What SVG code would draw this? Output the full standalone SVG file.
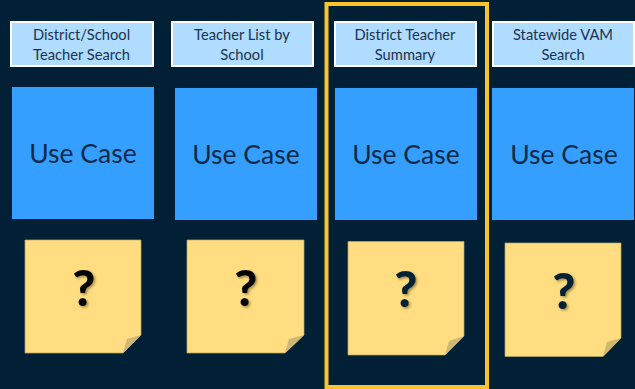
<svg xmlns="http://www.w3.org/2000/svg" width="635" height="389" viewBox="0 0 635 389">
<style>
text{font-family:Lato,"Open Sans",sans-serif;text-anchor:middle}
.lb{fill:#afdcff;stroke:#fff;stroke-width:2}
.lt{font-size:14.700px;fill:#1b3350}
.uc{fill:#359fff}
.ut{font-size:26.500px;fill:#0e2a47}
.n{fill:#ffdd80;stroke:#b5a76b;stroke-width:.7}
.f{fill:#cfb872}
.q{font-size:50px;font-weight:900}
</style>
<defs><filter id="s" x="-30%" y="-30%" width="160%" height="160%"><feDropShadow dx="1.5" dy="1.5" stdDeviation="1" flood-color="#7a6a30" flood-opacity=".7"/></filter></defs>
<rect width="635" height="389" fill="#012036"/>
<g id="col1">
<rect class="lb" x="11" y="22" width="142" height="44"/>
<text class="lt" x="81.500" y="40">District/School</text><text class="lt" x="81.500" y="60">Teacher Search</text>
<rect class="uc" x="12" y="87" width="142" height="132"/>
<text class="ut" x="83" y="163">Use Case</text>
<path class="n" d="M25 240H141V335L123 353H25Z"/><path class="f" d="M123 353L127 339L141 335Z"/>
<text class="q" x="84" y="306" fill="#000" filter="url(#s)">?</text>
</g>
<g id="col2">
<rect class="lb" x="172" y="22" width="141" height="44"/>
<text class="lt" x="242" y="40">Teacher List by</text><text class="lt" x="242" y="60">School</text>
<rect class="uc" x="175" y="88" width="142" height="132"/>
<text class="ut" x="246" y="164">Use Case</text>
<path class="n" d="M187 240H304V335L285 353H187Z"/><path class="f" d="M285 353L289 339L304 335Z"/>
<text class="q" x="246" y="306" fill="#000" filter="url(#s)">?</text>
</g>
<g id="col3">
<rect class="lb" x="335" y="22" width="141" height="44"/>
<text class="lt" x="405" y="40">District Teacher</text><text class="lt" x="405" y="60">Summary</text>
<rect class="uc" x="335" y="88" width="142" height="132"/>
<text class="ut" x="406" y="164">Use Case</text>
<path class="n" d="M348 241.500H464V336L445 355H348Z"/><path class="f" d="M445 355L449 341L464 336Z"/>
<text class="q" x="406" y="307" fill="#012036" filter="url(#s)">?</text>
</g>
<g id="col4">
<rect class="lb" x="493" y="22" width="141" height="44"/>
<text class="lt" x="563" y="40">Statewide VAM</text><text class="lt" x="563" y="60">Search</text>
<rect class="uc" x="492" y="88" width="142" height="132"/>
<text class="ut" x="564" y="164">Use Case</text>
<path class="n" d="M505 243H621V338L603 356.500H505Z"/><path class="f" d="M603 356.500L607 342L621 338Z"/>
<text class="q" x="564" y="309" fill="#012036" filter="url(#s)">?</text>
</g>
<rect id="highlight" x="326.500" y="4" width="160.500" height="383" fill="none" stroke="#fcc32c" stroke-width="4"/>
</svg>
